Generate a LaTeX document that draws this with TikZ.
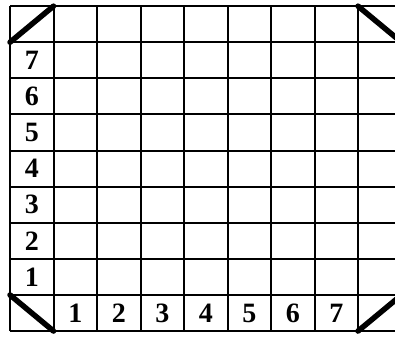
\documentclass[tikz,border=0pt]{standalone}
\usepackage{fontspec}
\setmainfont{Liberation Serif}
\usetikzlibrary{positioning}
\tikzset{
  lab/.style={font=\fontsize{28}{28}\selectfont\bfseries, inner sep=0pt},
  cornerbar/.style={line width=5.5pt, line cap=round}
}

\begin{document}
\begin{tikzpicture}[x=43.5pt,y=36.1pt]
  \useasboundingbox (-0.23,-0.14) rectangle (8.85,9.17);
  \draw[line width=2pt, xstep=43.5pt, ystep=36.1pt] (0,0) grid (9,9);
  % numbers along the left column and the bottom row
  \foreach \i in {1,...,7}{
    \node[lab] (row\i) at (0.5,\i+0.5) {\i};
    \node[lab] (col\i) at (\i+0.5,0.5) {\i};
  }
  % corner bars
  \draw[cornerbar] (0,8) -- (1,9);
  \draw[cornerbar] (8,9) -- (9,8);
  \draw[cornerbar] (0,1) -- (1,0);
  \draw[cornerbar] (8,0) -- (9,1);
\end{tikzpicture}
\end{document}
